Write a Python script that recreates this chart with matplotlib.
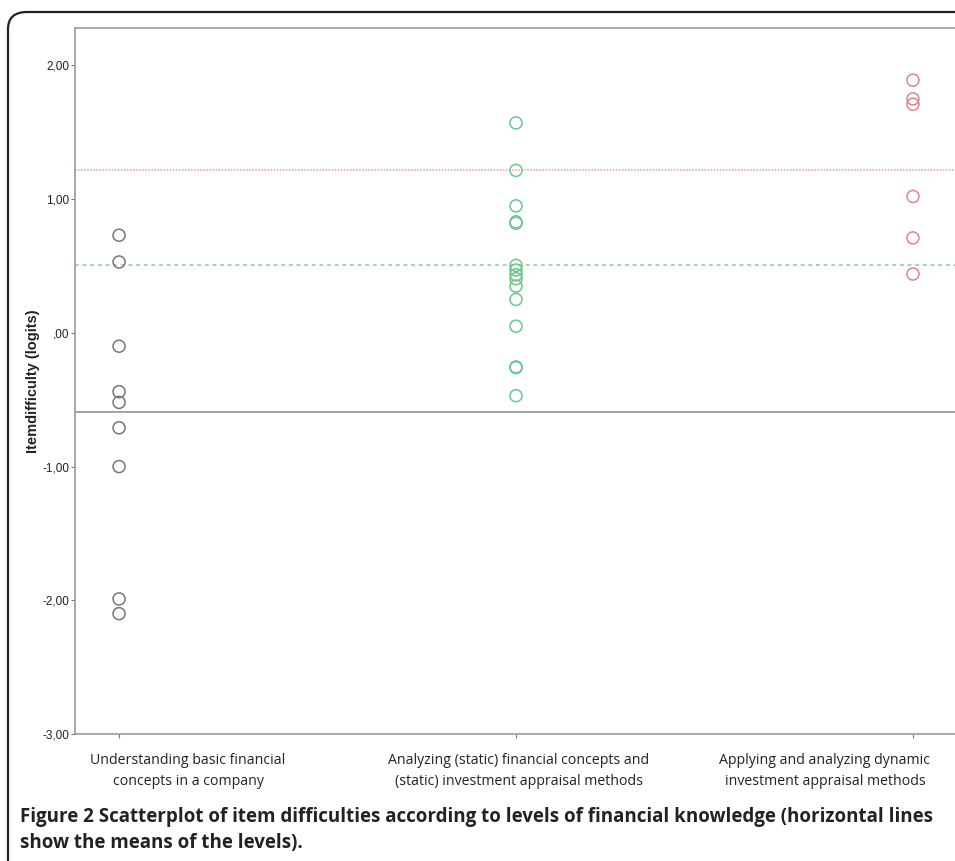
import numpy as np
import matplotlib.pyplot as plt
from matplotlib.patches import FancyBboxPatch

# Item difficulties (logits) per level of financial knowledge
levels = ['Understanding basic financial\nconcepts in a company',
          'Analyzing (static) financial concepts and\n(static) investment appraisal methods',
          'Applying and analyzing dynamic\ninvestment appraisal methods']
level1 = [0.73, 0.53, -0.10, -0.44, -0.52, -0.71, -1.00, -1.99, -2.10]
level2 = [1.57, 1.215, 0.95, 0.83, 0.82, 0.505, 0.47, 0.435, 0.405, 0.35,
          0.25, 0.05, -0.255, -0.26, -0.47]
level3 = [1.89, 1.75, 1.71, 1.02, 0.71, 0.44]
level_means = [-0.59, 0.505, 1.215]

point_colors = ['#767676', '#6cc68e', '#df8589']
line_colors = ['#8a8a8a', '#7fd09e', '#e89a9e']
line_styles = ['-', (0, (2.5, 2.5)), (0, (1, 1))]

yticks = [2, 1, 0, -1, -2, -3]
ytick_labels = ['2,00', '1,00', ',00', '-1,00', '-2,00', '-3,00']

fig = plt.figure(figsize=(9.55, 8.61), dpi=100)

# outer frame (rounded, cut off at right and bottom)
frame = FancyBboxPatch((8 / 955, -0.05), 1.2, 1.05 - 12 / 861,
                       boxstyle='round,pad=0,rounding_size=0.02',
                       transform=fig.transFigure, fill=False,
                       edgecolor='#222222', linewidth=1.6, clip_on=False)
fig.patches.append(frame)

ax = fig.add_axes([75 / 955, 127 / 861, 882 / 955, 706 / 861])

for i, vals in enumerate([level1, level2, level3]):
    ax.scatter(np.full(len(vals), i + 1), vals, s=75, facecolors='none',
               edgecolors=point_colors[i], linewidths=1.1, zorder=3)
    ax.axhline(level_means[i], color=line_colors[i], linestyle=line_styles[i],
               linewidth=1.1, zorder=2)

ax.set_xlim(0.889, 3.111)
ax.set_ylim(-3.0, 2.28)
ax.set_yticks(yticks)
ax.set_yticklabels(ytick_labels, fontsize=8.5, family='Liberation Sans',
                   color='#222222')
ax.set_xticks([1, 2, 3])
ax.set_xticklabels([])

# the category labels are not centred on their ticks in the original
shifts = [69, 3, -88]  # pixels
for i, (lab, dx) in enumerate(zip(levels, shifts)):
    ax.annotate(lab, xy=(i + 1, 0), xycoords=('data', 'axes fraction'),
                xytext=(dx * 0.72, -14), textcoords='offset points',
                ha='center', va='top', fontsize=10.2, family='Open Sans',
                color='#222222', linespacing=1.55)

ax.tick_params(axis='both', direction='out', length=3, width=0.8,
               color='#777777')
ax.tick_params(axis='y', pad=1)
for sp in ax.spines.values():
    sp.set_color('#9a9a9a')
    sp.set_linewidth(1.2)

ax.set_ylabel('Itemdifficulty (logits)', fontsize=10.5, fontweight='bold',
              family='Liberation Sans', color='#222222', labelpad=2)

fig.text(20 / 955, 1 - 817 / 861,
         'Figure 2 Scatterplot of item difficulties according to levels of '
         'financial knowledge (horizontal lines',
         fontsize=13.5, fontweight='bold', family='Open Sans', color='#222222',
         va='center', ha='left')
fig.text(20 / 955, 1 - 843 / 861, 'show the means of the levels).',
         fontsize=13.5, fontweight='bold', family='Open Sans', color='#222222',
         va='center', ha='left')

fig.savefig('out.png', dpi=100)
